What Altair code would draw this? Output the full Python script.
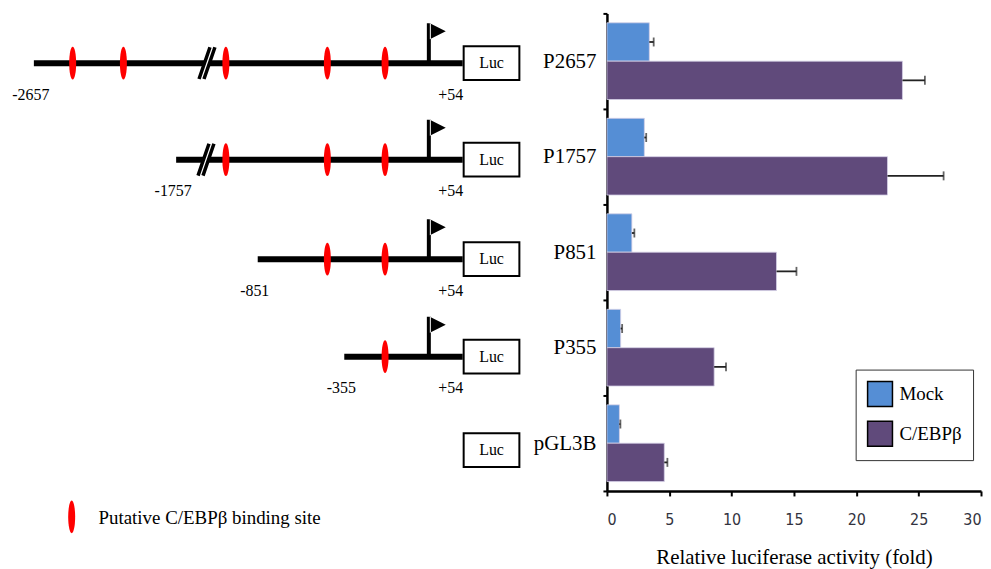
import altair as alt
import pandas as pd

# ---------------- bar chart data ----------------
constructs = ["P2657", "P1757", "P851", "P355", "pGL3B"]
groups = ["Mock", "C/EBPβ"]
mock = [3.4, 3.0, 2.0, 1.1, 1.0]
mock_err = [0.35, 0.15, 0.2, 0.12, 0.08]
cebpb = [23.7, 22.5, 13.6, 8.6, 4.6]
cebpb_err = [1.8, 4.5, 1.6, 0.95, 0.25]
x_ticks = [0, 5, 10, 15, 20, 25, 30]
group_colors = ["#558ED5", "#604A7B"]

# ---------------- promoter diagram (schematic units) ----------------
row_y = [63, 160, 260, 358, 452]
line_start = [33, 176, 258, 345]
start_labels = ["-2657", "-1757", "-851", "-355"]
end_label = "+54"
line_end = 464
tss_pos = 430
luc_pos = 493
site_pos = [[72, 123, 226, 328, 386], [226, 328, 386], [328, 386], [386]]
break_rows = ["P2657", "P1757"]
break_pos = [207, 206]
legend_site = [71, 519]
legend_text_pos = [98, 520]
legend_text = "Putative C/EBPβ binding site"

SERIF = "Liberation Serif"
NARROW = "Liberation Sans Narrow, Arial Narrow, DejaVu Sans Condensed, sans-serif"

ELLIPSE = ("M0,-1C0.117,-1 0.212,-0.552 0.212,0C0.212,0.552 0.117,1 0,1"
           "C-0.117,1 -0.212,0.552 -0.212,0C-0.212,-0.552 -0.117,-1 0,-1Z")
LUC_BOX = "M-1,-0.607L1,-0.607L1,0.607L-1,0.607Z"
FLAG = "M-0.1,0L0.1,0L0.1,-2L-0.1,-2Z M0.05,-2L0.85,-1.6L0.05,-1.2Z"
BREAK_MASK = "M-0.47,0.94L0.176,-0.94L0.47,-0.94L-0.176,0.94Z"
BREAK_LINES = "M-0.47,0.94L0.176,-0.94M-0.176,0.94L0.47,-0.94"

# ---------------- frames ----------------
n = len(line_start)
lines_df = pd.DataFrame({
    "construct": constructs[:n], "start": line_start, "end": [line_end] * n,
    "y": row_y[:n], "label": start_labels,
})
lines_df["label_x"] = lines_df["start"] - 3
sites_rows = []
for c, yy, xs_ in zip(constructs, row_y, site_pos):
    for xx in xs_:
        sites_rows.append({"construct": c, "x": xx, "y": yy})
sites_df = pd.DataFrame(sites_rows)
breaks_df = pd.DataFrame({"construct": break_rows, "x": break_pos,
                          "y": [row_y[constructs.index(c)] for c in break_rows]})
tss_df = pd.DataFrame({"construct": constructs[:n], "x": [tss_pos] * n, "y": row_y[:n]})
end_df = pd.DataFrame({"construct": constructs[:n], "x": [452] * n, "y": row_y[:n],
                       "label": [end_label] * n})
luc_df = pd.DataFrame({"construct": constructs, "x": [luc_pos] * len(constructs),
                       "y": row_y, "label": ["Luc"] * len(constructs)})
leg_site_df = pd.DataFrame({"x": [legend_site[0]], "y": [legend_site[1]]})
leg_text_df = pd.DataFrame({"x": [legend_text_pos[0]], "y": [legend_text_pos[1]],
                            "label": [legend_text]})

LW, LH = 519, 540
xs = alt.Scale(domain=[8, 8 + LW], nice=False, zero=False)
ys = alt.Scale(domain=[13, 13 + LH], nice=False, zero=False, reverse=True)


def X(f):
    return alt.X(f, type="quantitative", scale=xs, axis=None)


def Y(f):
    return alt.Y(f, type="quantitative", scale=ys, axis=None)


lines = alt.Chart(lines_df).mark_rule(strokeWidth=6, color="black").encode(
    x=X("start"), x2="end", y=Y("y"))
bmask = alt.Chart(breaks_df).mark_point(
    shape=BREAK_MASK, size=1156, filled=True, fill="white", strokeWidth=0, opacity=1
).encode(x=X("x"), y=Y("y"))
blines = alt.Chart(breaks_df).mark_point(
    shape=BREAK_LINES, size=1156, filled=False, color="black", stroke="black",
    strokeWidth=3.5, opacity=1
).encode(x=X("x"), y=Y("y"))
sites = alt.Chart(sites_df).mark_point(
    shape=ELLIPSE, size=1089, filled=True, color="#FF0000", strokeWidth=0, opacity=1
).encode(x=X("x"), y=Y("y"))
tss = alt.Chart(tss_df).mark_point(
    shape=FLAG, size=1600, filled=True, color="black", strokeWidth=0, opacity=1
).encode(x=X("x"), y=Y("y"))
luc = alt.Chart(luc_df).mark_point(
    shape=LUC_BOX, size=3136, filled=True, fill="white", stroke="black",
    strokeWidth=2, opacity=1
).encode(x=X("x"), y=Y("y"))
luc_txt = alt.Chart(luc_df).mark_text(
    font=SERIF, fontSize=16, color="black", align="center", baseline="middle"
).encode(x=X("x"), y=Y("y"), text="label:N")
start_txt = alt.Chart(lines_df).mark_text(
    font=SERIF, fontSize=16, color="black", align="center", baseline="middle", dy=32
).encode(x=X("label_x"), y=Y("y"), text="label:N")
end_txt = alt.Chart(end_df).mark_text(
    font=SERIF, fontSize=16, color="black", align="center", baseline="middle", dy=32
).encode(x=X("x"), y=Y("y"), text="label:N")
leg_site = alt.Chart(leg_site_df).mark_point(
    shape=ELLIPSE, size=1089, filled=True, color="#FF0000", strokeWidth=0, opacity=1
).encode(x=X("x"), y=Y("y"))
leg_txt = alt.Chart(leg_text_df).mark_text(
    font=SERIF, fontSize=19, color="black", align="left", baseline="middle"
).encode(x=X("x"), y=Y("y"), text="label:N")

diagram = alt.layer(
    lines, bmask, blines, sites, tss, luc, luc_txt, start_txt, end_txt, leg_site, leg_txt
).properties(width=LW, height=LH)

# ---------------- bar chart ----------------
bars_df = pd.DataFrame({
    "construct": constructs * 2,
    "group": [groups[0]] * len(constructs) + [groups[1]] * len(constructs),
    "value": mock + cebpb,
    "err": mock_err + cebpb_err,
})
bars_df["hi"] = bars_df["value"] + bars_df["err"]

x_axis = alt.Axis(
    title="Relative luciferase activity (fold)", values=x_ticks, format="d",
    labelFont=NARROW, labelFontSize=16, labelColor="#333340",
    tickSize=5, tickWidth=2, tickColor="black", domainColor="black", domainWidth=2.5,
    labelPadding=16, titleFont=SERIF, titleFontSize=21, titleFontWeight="normal",
    titleColor="black", titlePadding=19, grid=False,
)
y_axis = alt.Axis(
    title=None, labelFont=SERIF, labelFontSize=21, labelColor="black",
    tickBand="extent", tickSize=4, tickWidth=2, tickColor="black",
    domainColor="black", domainWidth=2.5, labelPadding=7, minExtent=80, grid=False,
)
x_scale = alt.Scale(domain=[0, 30], nice=False, zero=True)
y_scale = alt.Scale(domain=constructs, paddingInner=0, paddingOuter=0)
off_scale = alt.Scale(domain=groups, paddingInner=0, paddingOuter=0.245)

y_enc = alt.Y("construct:N", sort=constructs, scale=y_scale, axis=y_axis)
off_enc = alt.YOffset("group:N", sort=groups, scale=off_scale)

bars = alt.Chart(bars_df).mark_bar(stroke="#d4cfe6", strokeWidth=0.8).encode(
    x=alt.X("value:Q", scale=x_scale, axis=x_axis),
    y=y_enc,
    yOffset=off_enc,
    color=alt.Color(
        "group:N", sort=groups,
        scale=alt.Scale(domain=groups, range=group_colors),
        legend=alt.Legend(
            title=None, orient="none", legendX=250, legendY=358,
            symbolType="square", symbolSize=625, symbolStrokeColor="black",
            symbolStrokeWidth=1.5, symbolOpacity=1,
            labelFont=SERIF, labelFontSize=19, labelColor="black", labelOffset=6,
            rowPadding=9, padding=11, strokeColor="#333333", fillColor="white",
        ),
    ),
)
err_rule = alt.Chart(bars_df).mark_rule(color="#222222", strokeWidth=1.8).encode(
    x=alt.X("value:Q", scale=x_scale, axis=x_axis), x2="hi:Q", y=y_enc, yOffset=off_enc)
err_cap = alt.Chart(bars_df).mark_tick(color="#222222", thickness=1.8, size=9).encode(
    x=alt.X("hi:Q", scale=x_scale, axis=x_axis), y=y_enc, yOffset=off_enc)

barchart = alt.layer(bars, err_rule, err_cap).properties(width=376, height=480)

chart = (
    alt.hconcat(diagram, barchart, spacing=0)
    .resolve_legend(color="independent")
    .properties(padding={"left": 0, "top": -8, "right": 0, "bottom": 0})
    .configure(font=SERIF, background="white")
    .configure_view(stroke="transparent")
)

chart.save("out.html", embed_options={"renderer": "svg", "actions": False})
